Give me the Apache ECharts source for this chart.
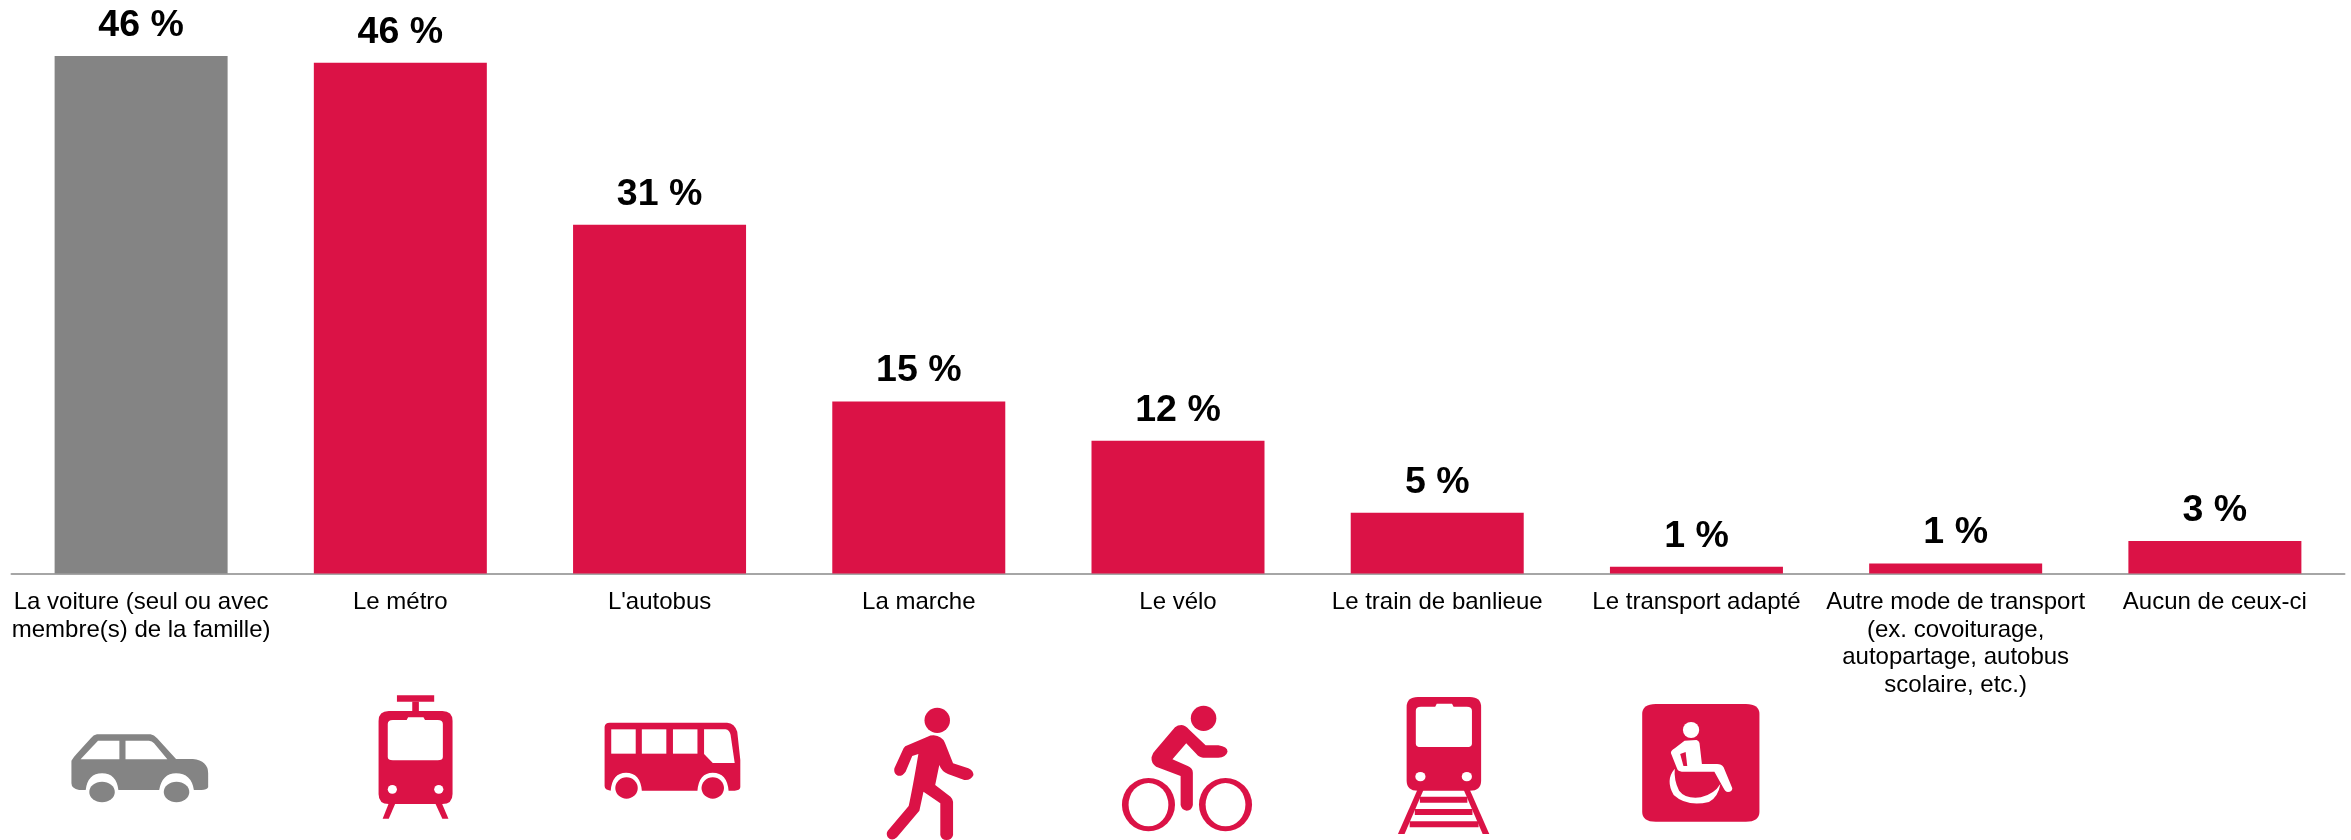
<!DOCTYPE html>
<html><head><meta charset="utf-8">
<style>html,body{margin:0;padding:0;background:#fff}#c{width:2351px;height:840px}</style>
<script src="https://cdn.jsdelivr.net/npm/echarts@6/dist/echarts.min.js"></script>
</head><body><div id="c"></div>
<script>
const categories = ["La voiture (seul ou avec\nmembre(s) de la famille)","Le métro","L'autobus","La marche","Le vélo","Le train de banlieue","Le transport adapté","Autre mode de transport\n(ex. covoiturage,\nautopartage, autobus\nscolaire, etc.)","Aucun de ceux-ci"];
const values = [46, 45.4, 31, 15.3, 11.8, 5.4, 0.6, 0.9, 2.9];
const valueLabels = ["46 %","46 %","31 %","15 %","12 %","5 %","1 %","1 %","3 %"];
const GREY = "#848484", RED = "#DB1246";
const barColors = [GREY,RED,RED,RED,RED,RED,RED,RED,RED];

const ell=(cx,cy,rx,ry)=>`M${cx-rx} ${cy}A${rx} ${ry} 0 1 0 ${cx+rx} ${cy}A${rx} ${ry} 0 1 0 ${cx-rx} ${cy}Z`;
const rect=(x0,y0,x1,y1)=>`M${x0} ${y0}L${x1} ${y0}L${x1} ${y1}L${x0} ${y1}Z`;
const rrect=(x0,y0,x1,y1,rx,ry)=>`M${x0+rx} ${y0}L${x1-rx} ${y0}Q${x1} ${y0} ${x1} ${y0+ry}L${x1} ${y1-ry}Q${x1} ${y1} ${x1-rx} ${y1}L${x0+rx} ${y1}Q${x0} ${y1} ${x0} ${y1-ry}L${x0} ${y0+ry}Q${x0} ${y0} ${x0+rx} ${y0}Z`;
const notchWin=(x0,y0,x1,y1,n0,n1,ny)=>`M${x0+10} ${y0}L${n0} ${y0}L${n0+3} ${ny}L${n1-3} ${ny}L${n1} ${y0}L${x1-10} ${y0}Q${x1} ${y0} ${x1} ${y0+12}L${x1} ${y1-10}Q${x1} ${y1} ${x1-10} ${y1}L${x0+10} ${y1}Q${x0} ${y1} ${x0} ${y1-10}L${x0} ${y0+12}Q${x0} ${y0} ${x0+10} ${y0}Z`;
const W="#fff";
// Pictograms: drawn in a stretched local space, per category index
const icons = {
 0:{o:[0,550],s:[1/1.96,1/3],parts:[
  [GREY,"M190 553L295 553Q302 555 308 565L345 627L378 627Q408 632 408 670L408 712Q405 720 395 720L380 720Q375 670 345 670Q318 670 312 720L232 720Q228 670 200 670Q172 670 168 720L155 720Q140 715 140 700L140 632Q145 620 150 612L178 565Q183 555 190 553Z"],
  [W,"M192 572L234 572L234 628L158 628Z"],[W,"M246 572L292 572Q298 572 302 580L328 628L246 628Z"],
  [GREY,ell(200,726,25,31)],[GREY,ell(346,726,25,31)]]},
 1:{o:[0,550],s:[1/1.96,1/3],parts:[
  [RED,rect(778,436,851,455)],[RED,rect(808,455,821,485)],
  [RED,rrect(742,483,887,762,20,30)],
  [W,notchWin(760,510,868,631,797,833,502)],
  [W,ell(769,718,9,13)],[W,ell(860,718,9,13)],
  [RED,"M762 760L775 760L762 806L750 806Z"],[RED,"M853 760L866 760L879 806L867 806Z"]]},
 2:{o:[0,550],s:[1/1.96,1/3],parts:[
  [RED,"M1195 518L1425 518Q1440 520 1445 545L1451 630L1451 712Q1450 722 1440 722L1428 722Q1425 668 1397 668Q1370 668 1367 722L1258 722Q1255 668 1227 668Q1200 668 1197 722Q1185 720 1185 708L1185 530Q1186 518 1195 518Z"],
  [W,rect(1198,538,1246,611)],[W,rect(1258,538,1306,611)],[W,rect(1319,538,1367,611)],
  [W,"M1380 538L1422 538Q1430 540 1432 555L1440 639L1397 639L1380 612Z"],
  [RED,ell(1228,714,22,32)],[RED,ell(1397,714,22,32)]]},
 3:{o:[800,550],s:[1/1.96,1/3],parts:[
  [RED,ell(269,511,25,38)],
  [RED,"M262 556Q278 558 284 578L300 640L330 655Q340 662 340 675Q335 692 322 690L290 672Q278 665 273 645L265 705L295 740Q300 748 300 755L300 855Q298 870 287 870Q277 870 275 855L275 760L242 725L234 782L190 862Q180 875 172 862Q168 850 172 842L213 768Q220 720 232 612L220 618L207 665Q200 680 192 677Q183 672 185 655L203 595Q205 588 212 585L250 560Q255 556 262 556Z"]]},
 4:{o:[800,550],s:[1/1.96,1/3],parts:[
  [RED,ell(791,505,25,38)],
  [RED,"M748 525Q757 527 762 538L795 586L820 586Q838 590 838 605Q835 622 820 623L790 623Q782 622 777 612L757 580L730 628L760 648Q770 655 770 668L770 765Q768 782 758 782Q748 780 746 765L746 678L698 650Q688 640 689 622Q690 610 697 600L735 532Q740 525 748 525Z"],
  [RED,ell(683,764,52,80)],[W,ell(683,764,39,65)],
  [RED,ell(834,764,52,80)],[W,ell(834,764,39,65)]]},
 5:{o:[800,550],s:[1/1.96,1/3],parts:[
  [RED,rrect(1189,441,1335,722,22,30)],
  [W,notchWin(1207,470,1317,591,1245,1281,461)],
  [W,ell(1216,680,10,14)],[W,ell(1307,680,10,14)],
  [RED,"M1210 720L1222 720L1185 852L1172 852Z"],[RED,"M1313 720L1301 720L1338 852L1351 852Z"],
  [RED,rect(1215,740,1308,758)],[RED,rect(1205,777,1318,795)],[RED,rect(1195,814,1330,832)]]},
 6:{o:[1500,480],s:[1/1.8425,1/3],parts:[
  [RED,rrect(262,672,478,1025,25,30)],
  [W,ell(352,750,15,24)],
  [W,"M340 782L362 780Q368 783 368 795L372 852L400 852Q408 852 412 862L428 925Q428 936 420 936Q415 936 412 925L395 875L335 875Q328 875 326 865L315 820Q314 812 322 805Z"],
  [RED,"M332 822L342 816L345 858L338 858Z"],
  [W,"M322 866Q304 900 320 945Q345 982 385 966Q402 952 406 912Q395 942 370 952Q342 958 330 932Q320 900 322 866Z"]]}
};
const iconIndex = [0,1,2,3,4,5,6];

const chart = echarts.init(document.getElementById('c'), null, {renderer:'canvas'});
chart.setOption({
  animation:false,
  backgroundColor:'#fff',
  grid:{left:11.5,width:2333,top:56,height:517.5,containLabel:false},
  xAxis:{type:'category',data:categories,
    axisTick:{show:false},
    axisLine:{lineStyle:{color:'#A6A6A6',width:2}},
    axisLabel:{interval:0,margin:15.5,color:'#000',fontFamily:'Liberation Sans',fontSize:24,lineHeight:27.5,verticalAlign:'top'}},
  yAxis:{type:'value',min:0,max:46,show:false,splitLine:{show:false}},
  series:[
   {type:'bar',data:values,barWidth:173,z:2,
    itemStyle:{color:p=>barColors[p.dataIndex]},
    label:{show:true,position:'top',distance:11.5,color:'#000',fontFamily:'Liberation Sans',fontWeight:'bold',fontSize:37.5,
      formatter:p=>valueLabels[p.dataIndex]}},
   {type:'custom',silent:true,clip:false,z:3,data:iconIndex.map(i=>[i,0]),
    renderItem:(params,api)=>{
      const ic=icons[api.value(0)];
      return {type:'group',x:ic.o[0],y:ic.o[1],scaleX:ic.s[0],scaleY:ic.s[1],
        children:ic.parts.map(p=>({type:'path',shape:{pathData:p[1]},style:{fill:p[0]}}))};
    }}
  ]
});
</script></body></html>
